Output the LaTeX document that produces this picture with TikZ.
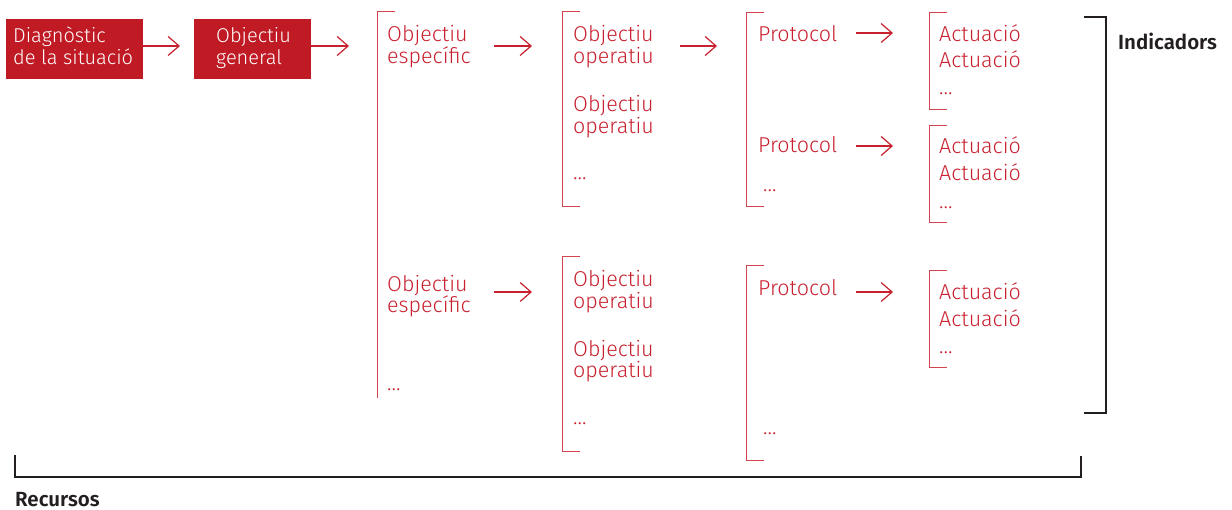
\documentclass[tikz,border=0pt]{standalone}
\usepackage{fontspec}
\setmainfont{Fira Sans}[UprightFont=* Light, BoldFont=* SemiBold]
\usetikzlibrary{arrows.meta}
\definecolor{boxred}{HTML}{C01A24}
\definecolor{txtred}{HTML}{C8202E}
\definecolor{linered}{HTML}{D2444E}
\definecolor{ink}{HTML}{231F20}
\begin{document}
\begin{tikzpicture}[x=1pt,y=-1pt,
  t/.style={anchor=base west, inner sep=0pt, text=txtred, font=\fontsize{21.5}{23}\selectfont},
  wt/.style={anchor=base west, inner sep=0pt, text=white, font=\fontsize{20}{22}\selectfont},
  lbl/.style={anchor=base west, inner sep=0pt, text=ink, font=\fontsize{20.5}{22}\selectfont\bfseries},
  box/.style={fill=boxred, draw=none, anchor=north west, minimum width=#1, minimum height=60pt, inner sep=0pt},
  brk/.style={draw=linered, line width=1pt},
  blk/.style={draw=ink, line width=2.6pt},
  arr/.style={draw=txtred, line width=1.2pt, -{Straight Barb[length=11pt,width=19pt,line width=1.2pt]}}]
\useasboundingbox (0,0) rectangle (1232,510);
% red boxes
\node[box=137pt] (b1) at (6,19) {};
\node[box=117pt] (b2) at (194,19) {};
\node[wt] (b1a) at (13,43) {Diagnòstic};
\node[wt] (b1b) at (13,65) {de la situació};
\node[wt] (b2a) at (216,43) {Objectiu};
\node[wt] (b2b) at (216,65) {general};
% arrow coordinates
\coordinate (a1s) at (143,46); \coordinate (a1e) at (180,46);
\coordinate (a2s) at (311,46); \coordinate (a2e) at (349,46);
\coordinate (a3s) at (494,46); \coordinate (a3e) at (532,46);
\coordinate (a4s) at (494,292); \coordinate (a4e) at (532,292);
\coordinate (a5s) at (680,46); \coordinate (a5e) at (717,46);
\coordinate (a6s) at (856,33); \coordinate (a6e) at (893,33);
\coordinate (a7s) at (856,146); \coordinate (a7e) at (893,146);
\coordinate (a8s) at (856,292); \coordinate (a8e) at (893,292);
\foreach \i in {1,...,8} {\draw[arr] (a\i s) -- (a\i e);}
% column 1
\draw[brk] (395,12) -| (377,398);
\node[t] (c1a) at (387,42) {Objectiu};
\node[t] (c1b) at (387,64) {específic};
\node[t] (c1c) at (387,292) {Objectiu};
\node[t] (c1d) at (387,313) {específic};
\node[t] (c1e) at (387,391) {...};
% column 2
\draw[brk] (580,12) -| (562,207) -- (580,207);
\draw[brk] (580,257) -| (562,452) -- (580,452);
\node[t] (c2a) at (573,42) {Objectiu};
\node[t] (c2b) at (573,64) {operatiu};
\node[t] (c2c) at (573,112) {Objectiu};
\node[t] (c2d) at (573,134) {operatiu};
\node[t] (c2e) at (573,180) {...};
\node[t] (c2f) at (573,287) {Objectiu};
\node[t] (c2g) at (573,309) {operatiu};
\node[t] (c2h) at (573,357) {Objectiu};
\node[t] (c2i) at (573,378) {operatiu};
\node[t] (c2j) at (573,425) {...};
% column 3
\draw[brk] (764,13) -| (746,207) -- (764,207);
\draw[brk] (764,266) -| (746,461) -- (764,461);
\node[t] (c3a) at (758,42) {Protocol};
\node[t] (c3b) at (758,153) {Protocol};
\node[t] (c3c) at (763,192) {...};
\node[t] (c3d) at (758,296) {Protocol};
\node[t] (c3e) at (763,435) {...};
% column 4
\draw[brk] (947,13) -| (929,110) -- (947,110);
\draw[brk] (947,126) -| (929,223) -- (947,223);
\draw[brk] (947,271) -| (929,368) -- (947,368);
\node[t] (c4a) at (939,42) {Actuació};
\node[t] (c4b) at (939,68) {Actuació};
\node[t] (c4c) at (939,95) {...};
\node[t] (c4d) at (939,154) {Actuació};
\node[t] (c4e) at (939,181) {Actuació};
\node[t] (c4f) at (939,209) {...};
\node[t] (c4g) at (939,300) {Actuació};
\node[t] (c4h) at (939,327) {Actuació};
\node[t] (c4i) at (939,354) {...};
% black brackets
\draw[blk] (1084,17) -| (1106,413) -- (1084,413);
\draw[blk] (15,455) |- (1081,477) -- (1081,456);
\node[lbl] (ind) at (1118,50) {Indicadors};
\node[lbl] (rec) at (15,506) {Recursos};
\end{tikzpicture}
\end{document}
